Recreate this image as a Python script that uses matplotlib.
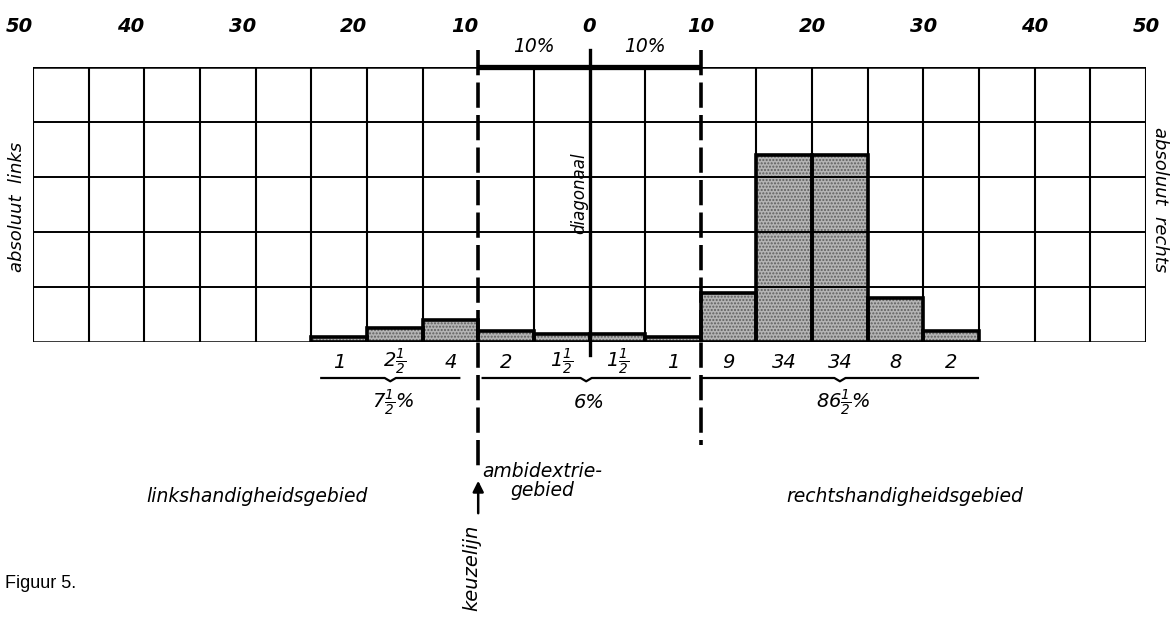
import matplotlib
matplotlib.use('Agg')
import matplotlib.pyplot as plt

# bins of 5 on the left/right scale (negative = left side), value in %
bin_left = [-25, -20, -15, -10, -5, 0, 5, 10, 15, 20, 25, 30]
bin_width = 5
percent = [1, 2.5, 4, 2, 1.5, 1.5, 1, 9, 34, 34, 8, 2]
value_labels = ['1', r'$2\frac{1}{2}$', '4', '2', r'$1\frac{1}{2}$', r'$1\frac{1}{2}$',
                '1', '9', '34', '34', '8', '2']

# groups: left-handed, ambidextrous, right-handed
group_ranges = [(-24.1, -11.7), (-9.6, 9.0), (10.1, 34.9)]
group_labels = [r'$7\frac{1}{2}$%', '6%', r'$86\frac{1}{2}$%']
region_names = ['linkshandigheidsgebied', 'ambidextrie-\ngebied', 'rechtshandigheidsgebied']

top_ticks = [-50, -40, -30, -20, -10, 0, 10, 20, 30, 40, 50]
top_labels = ['50', '40', '30', '20', '10', '0', '10', '20', '30', '40', '50']

plt.rcParams['font.family'] = 'DejaVu Sans'
plt.rcParams['mathtext.fontset'] = 'custom'
plt.rcParams['mathtext.rm'] = 'DejaVu Sans:italic'
plt.rcParams['mathtext.it'] = 'DejaVu Sans:italic'

W, H = 1176, 621
fig = plt.figure(figsize=(W / 100, H / 100), dpi=100)
# grid area in pixels: x 33..1146, y 67..342
gx0, gx1, gy0, gy1 = 33, 1146, 67, 342
ax = fig.add_axes([gx0 / W, 1 - gy1 / H, (gx1 - gx0) / W, (gy1 - gy0) / H])
ax.set_xlim(-50, 50)
ax.set_ylim(0, 50)
ax.axis('off')


def py(ypix):
    return (gy1 - ypix) * 50 / (gy1 - gy0)


def px(xpix):
    return (xpix - gx0) * 100 / (gx1 - gx0) - 50


# bars first (grey stipple), then outlines
ax.bar(bin_left, percent, width=bin_width, align='edge', color='#b4b4b4',
       edgecolor='#5e5e5e', linewidth=0, hatch='.....', zorder=1)
ax.bar(bin_left, percent, width=bin_width, align='edge', fill=False,
       edgecolor='black', linewidth=2.6, zorder=4)

# grid
for x in range(-50, 55, 5):
    if x in (-10, 0, 10):
        continue
    ax.plot([x, x], [0, 50], color='black', lw=1.5, zorder=2, solid_capstyle='butt')
for y in range(0, 60, 10):
    ax.plot([-50, 50], [y, y], color='black', lw=1.4 if y not in (0, 50) else 1.8, zorder=2)

# choice lines at -10 / +10 and diagonal at 0
ax.plot([-10, -10], [py(50), py(470)], color='black', lw=2.6, ls=(0, (7, 2)),
        clip_on=False, zorder=3)
ax.plot([10, 10], [py(50), py(445)], color='black', lw=2.6, ls=(0, (7, 2)),
        clip_on=False, zorder=3)
ax.plot([0, 0], [py(50), py(355)], color='black', lw=2.4, clip_on=False, zorder=3)
ax.plot([-10, 10], [50, 50], color='black', lw=3.8, clip_on=False, zorder=3,
        solid_capstyle='butt')

hand = dict(style='italic', color='black')

for t, lab in zip(top_ticks, top_labels):
    shift = -1.2 if t < 0 else 0
    ax.text(t + shift, py(27), lab, ha='center', va='center', fontsize=14,
            weight='bold', clip_on=False, **hand)

ax.text(-5, py(47), '10%', ha='center', va='center', fontsize=13.5, **hand)
ax.text(5, py(47), '10%', ha='center', va='center', fontsize=13.5, **hand)

ax.text(-0.9, py(193), 'diagonaal', rotation=90, ha='center', va='center',
        fontsize=12, **hand)

fig.text(17 / W, 1 - 207 / H, 'absoluut  links', rotation=90, ha='center',
         va='center', fontsize=13, **hand)
fig.text(1160 / W, 1 - 200 / H, 'absoluut  rechts', rotation=270, ha='center',
         va='center', fontsize=13, **hand)

# values under the bars
for b, lab in zip(bin_left, value_labels):
    ax.text(b + bin_width / 2, py(362), lab, ha='center', va='center',
            fontsize=14, **hand)

# braces with group totals
for (a, b), lab in zip(group_ranges, group_labels):
    m = (a + b) / 2
    yb = py(378)
    ax.plot([a, m - 0.5, m, m + 0.5, b], [yb, yb, yb - 0.6, yb, yb], color='black',
            lw=1.6, clip_on=False)
    ax.text(m + 0.3, py(403), lab, ha='center', va='center', fontsize=14, **hand)

# region names
ax.text(px(257), py(497), region_names[0], ha='center', va='center', fontsize=13.5, **hand)
ax.text(px(542), py(481), region_names[1], ha='center', va='center', fontsize=13.5,
        linespacing=1.05, multialignment='center', **hand)
ax.text(px(905), py(497), region_names[2], ha='center', va='center', fontsize=13.5, **hand)

# keuzelijn arrow
ax.annotate('', xy=(-10, py(478)), xytext=(-10, py(516)),
            arrowprops=dict(arrowstyle='-|>', color='black', lw=1.8, mutation_scale=16),
            annotation_clip=False)
ax.text(px(472), py(568), 'keuzelijn', rotation=90, ha='center', va='center',
        fontsize=14, clip_on=False, **hand)

fig.text(5 / W, 1 - 584 / H, 'Figuur 5.', ha='left', va='center', fontsize=13,
         family='Liberation Sans')

fig.savefig('out.png', dpi=100)
